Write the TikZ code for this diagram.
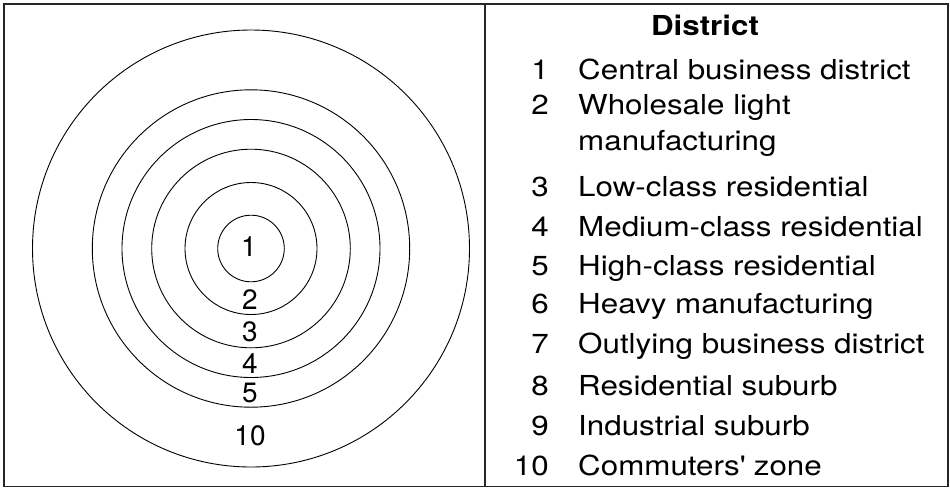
\documentclass[tikz,border=0pt]{standalone}
\usepackage{fontspec}
\setmainfont{TeX Gyre Heros}
\newfontfamily\legfont[FakeStretch=1.14]{TeX Gyre Heros}
\begin{document}
\begin{tikzpicture}[x=1pt,y=-1pt,
  ring/.style={draw=black,line width=0.9pt},
  lab/.style={font=\fontsize{28}{32}\selectfont,inner sep=0pt},
  leg/.style={font=\legfont\fontsize{27.5}{32}\selectfont,inner sep=0pt},
  num/.style={leg,anchor=base east},
  txt/.style={leg,anchor=base west},
  zone/.style={lab,anchor=center}]
\useasboundingbox (0,0) rectangle (950,488);
\draw[line width=1.6pt,black!85] (4,4) rectangle (948,486.5);
\coordinate (dtop) at (485,4);
\coordinate (dbot) at (485,486.5);
\draw[line width=1.3pt,black!85] (dtop) -- (dbot);
\coordinate (ctr) at (251,248.5);
\foreach \r in {33.3,66,99.3,129,158.7,218.5}
  \draw[ring] (ctr) circle[radius=\r];
\node[zone] (z1) at (249,247) {1};
\node[zone] (z2) at (250,300) {2};
\node[zone] (z3) at (250,332) {3};
\node[zone] (z4) at (250,364) {4};
\node[zone] (z5) at (250,393) {5};
\node[zone] (z10) at (250,436) {10};
\node[leg,anchor=base,font=\legfont\fontsize{27.5}{32}\selectfont\bfseries] (head) at (705,35) {District};
\node[num] (n1) at (549,79.3) {1};
\node[txt] (t1) at (578,79.3) {Central business district};
\node[num] (n2) at (549,114.5) {2};
\node[txt] (t2) at (578,114.5) {Wholesale light};
\node[txt] (t2b) at (578,150) {manufacturing};
\node[num] (n3) at (549,196) {3};
\node[txt] (t3) at (578,196) {Low-class residential};
\node[num] (n4) at (549,236) {4};
\node[txt] (t4) at (578,236) {Medium-class residential};
\node[num] (n5) at (549,275) {5};
\node[txt] (t5) at (578,275) {High-class residential};
\node[num] (n6) at (549,313) {6};
\node[txt] (t6) at (578,313) {Heavy manufacturing};
\node[num] (n7) at (549,353.3) {7};
\node[txt] (t7) at (578,353.3) {Outlying business district};
\node[num] (n8) at (549,395) {8};
\node[txt] (t8) at (578,395) {Residential suburb};
\node[num] (n9) at (549,435) {9};
\node[txt] (t9) at (578,435) {Industrial suburb};
\node[num] (n10) at (549,475) {10};
\node[txt] (t10) at (578,475) {Commuters\textquotesingle\ zone};
\end{tikzpicture}
\end{document}
